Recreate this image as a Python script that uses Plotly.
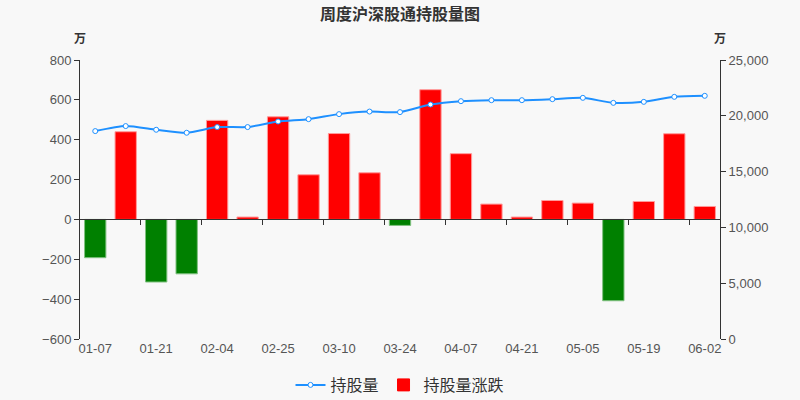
import plotly.graph_objects as go

dates = ["01-07", "01-14", "01-21", "01-28", "02-04", "02-18", "02-25", "03-03",
         "03-10", "03-17", "03-24", "03-31", "04-07", "04-14", "04-21", "04-28",
         "05-05", "05-12", "05-19", "05-26", "06-02"]
holdings = [18630, 19080, 18750, 18480, 18990, 18990, 19490, 19700, 20150, 20380,
            20330, 21010, 21310, 21400, 21400, 21490, 21610, 21160, 21250, 21700, 21790]
changes = [-192, 440, -314, -273, 497, 12, 515, 224, 431, 234, -30, 651, 330, 77,
           12, 95, 82, -408, 90, 430, 65]

xs = list(range(len(dates)))
bar_colors = ["#ff0000" if v >= 0 else "#008000" for v in changes]
edge_colors = ["#ff9a9a" if v >= 0 else "#7fc07f" for v in changes]

fig = go.Figure()
fig.add_trace(go.Bar(
    x=xs, y=changes, name="持股量涨跌", showlegend=False,
    marker=dict(color=bar_colors, line=dict(color=edge_colors, width=1)),
))
fig.add_trace(go.Scatter(
    x=xs, y=holdings, name="持股量", mode="lines+markers", yaxis="y2",
    line=dict(color="#1e90ff", width=2, shape="spline", smoothing=0.6),
    marker=dict(symbol="circle", size=5, color="#ffffff",
                line=dict(color="#1e90ff", width=1)),
    legendrank=1,
))
# legend entry for the bars (red swatch)
fig.add_trace(go.Bar(
    x=[None], y=[None], name="持股量涨跌", showlegend=True,
    marker=dict(color="#ff0000", line=dict(color="#ff0000", width=1)),
    legendrank=2,
))
# invisible trace so the label axis renders
fig.add_trace(go.Scatter(x=[xs[0]], y=[0], xaxis="x2", yaxis="y", mode="markers",
                         marker=dict(opacity=0), showlegend=False, hoverinfo="skip"))

font_fam = "Liberation Sans, Noto Sans CJK SC, sans-serif"
cjk = "Noto Sans CJK SC, sans-serif"
fig.update_layout(
    width=800, height=400,
    paper_bgcolor="#f8f8f8", plot_bgcolor="#f8f8f8",
    margin=dict(l=80, r=80, t=60, b=61, autoexpand=False),
    font=dict(family=font_fam, color="#555", size=13),
    bargap=0.3,
    showlegend=True,
    title=dict(text="<b>周度沪深股通持股量图</b>", x=0.5, xanchor="center",
               y=0.963, yanchor="middle",
               font=dict(size=16, color="#333", family=cjk)),
    legend=dict(orientation="h", x=0.5, xanchor="center",
                yref="container", y=0.0375, yanchor="middle",
                font=dict(size=16, color="#333", family=cjk),
                itemwidth=30, bgcolor="rgba(0,0,0,0)"),
    xaxis=dict(range=[-0.5, len(dates) - 0.5], anchor="free", position=600 / 1400,
               showline=True, linecolor="#333", linewidth=1,
               tickmode="array", tickvals=[i + 0.5 for i in range(1, len(dates), 2)],
               ticks="outside", ticklen=5, tickcolor="#333",
               showticklabels=False, showgrid=False, zeroline=False),
    xaxis2=dict(range=[-0.5, len(dates) - 0.5], overlaying="x", anchor="y", side="bottom",
                tickmode="array", tickvals=xs[::2], ticktext=dates[::2],
                ticks="", showline=False, showgrid=False, zeroline=False,
                tickfont=dict(size=13, color="#555")),
    yaxis=dict(range=[-600, 800], dtick=200, tickmode="linear", tick0=-600,
               showline=True, linecolor="#333", ticks="outside", ticklen=5,
               tickcolor="#333", showgrid=False, zeroline=False),
    yaxis2=dict(range=[0, 25000], dtick=5000, tickmode="linear", tick0=0,
                overlaying="y", side="right", anchor="x", tickformat=",",
                showline=True, linecolor="#333", ticks="outside", ticklen=5,
                tickcolor="#333", showgrid=False, zeroline=False),
    annotations=[
        dict(text="<b>万</b>", xref="paper", yref="paper", x=0, y=1, xanchor="center",
             yanchor="middle", yshift=23,
             showarrow=False, font=dict(size=12, color="#333", family=cjk)),
        dict(text="<b>万</b>", xref="paper", yref="paper", x=1, y=1, xanchor="center",
             yanchor="middle", yshift=23,
             showarrow=False, font=dict(size=12, color="#333", family=cjk)),
    ],
)

fig.write_html("out.html", config={"displayModeBar": False},
               post_script="document.body.style.margin='0';document.body.style.background='#f8f8f8';")
